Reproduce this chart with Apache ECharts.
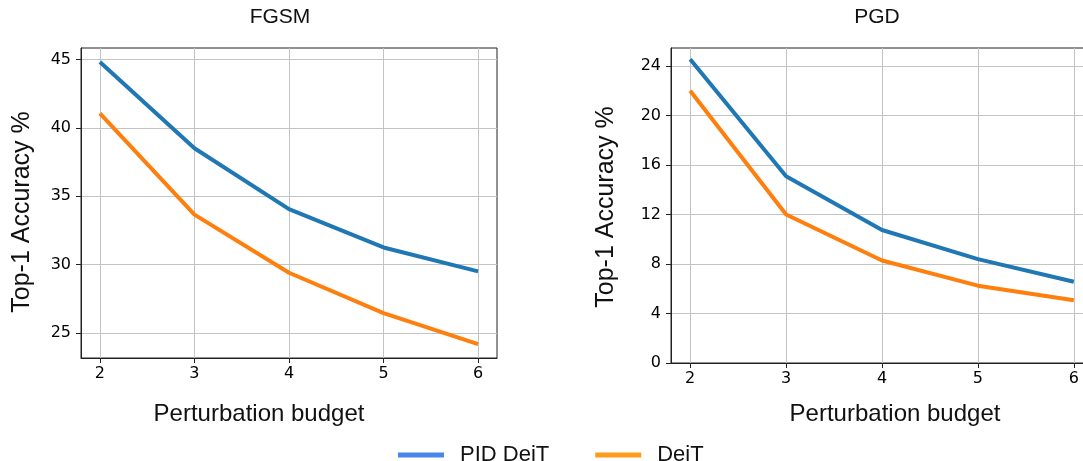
<!DOCTYPE html>
<html>
<head>
<meta charset="utf-8">
<script src="https://cdn.jsdelivr.net/npm/echarts@6/dist/echarts.min.js"></script>
<style>
  html, body { margin: 0; padding: 0; background: #fff; }
  #chart { width: 1083px; height: 461px; }
</style>
</head>
<body>
<div id="chart"></div>
<script>
// 数据
const budgets = [2, 3, 4, 5, 6];
const fgsmPid = [44.8, 38.5, 34.05, 31.25, 29.5];
const fgsmDeit = [41.05, 33.65, 29.4, 26.45, 24.18];
const pgdPid = [24.55, 15.1, 10.75, 8.4, 6.57];
const pgdDeit = [22.0, 12.0, 8.28, 6.25, 5.08];
const fgsmTicks = [25, 30, 35, 40, 45];
const pgdTicks = [0, 4, 8, 12, 16, 20, 24];

const BLUE = '#1f77b4';
const ORANGE = '#ff7f0e';
const tickFont = { fontFamily: 'DejaVu Sans', fontSize: 16, color: '#000' };
const sans = 'Liberation Sans';

const pairs = (ys) => budgets.map((x, i) => [x, ys[i]]);

function xAxisFor(gridIndex) {
  return {
    type: 'value', gridIndex: gridIndex, min: 1.8, max: 6.2,
    axisLine: { lineStyle: { color: '#222', width: 1 } },
    axisTick: { length: 5, lineStyle: { color: '#222' }, customValues: budgets },
    axisLabel: Object.assign({ margin: 8, customValues: budgets }, tickFont),
    splitLine: { show: true, lineStyle: { color: '#c4c4c4', width: 1 }, customValues: budgets }
  };
}

function yAxisFor(gridIndex, min, max, ticks) {
  return {
    type: 'value', gridIndex: gridIndex, min: min, max: max,
    axisLine: { show: true, lineStyle: { color: '#222', width: 1 } },
    axisTick: { show: true, length: 5, lineStyle: { color: '#222' }, customValues: ticks },
    axisLabel: Object.assign({ margin: 10, customValues: ticks }, tickFont),
    splitLine: { show: true, lineStyle: { color: '#c4c4c4', width: 1 }, customValues: ticks }
  };
}

function lineSeries(name, color, xi, ys) {
  return {
    name: name, type: 'line', xAxisIndex: xi, yAxisIndex: xi,
    data: pairs(ys), showSymbol: false, symbol: 'none',
    lineStyle: { color: color, width: 4 }, itemStyle: { color: color },
    animation: false
  };
}

var myChart = echarts.init(document.getElementById('chart'));
var option;

option = {
  backgroundColor: '#fff',
  animation: false,
  grid: [
    { left: 81, width: 416, top: 48, height: 310, show: true, borderColor: '#222', borderWidth: 1, outerBoundsMode: 'none', containLabel: false },
    { left: 671, width: 422, top: 48, height: 315, show: true, borderColor: '#222', borderWidth: 1, outerBoundsMode: 'none', containLabel: false }
  ],
  xAxis: [xAxisFor(0), xAxisFor(1)],
  yAxis: [
    yAxisFor(0, 23.17, 45.83, fgsmTicks),
    yAxisFor(1, 0, 25.46, pgdTicks)
  ],
  legend: {
    left: 393, top: 439, itemWidth: 46, itemHeight: 5, itemGap: 46,
    icon: 'rect',
    textStyle: { fontFamily: sans, fontSize: 22, color: '#111', padding: [0, 0, 0, 11] },
    data: [
      { name: 'PID DeiT', itemStyle: { color: '#4a86e8' } },
      { name: 'DeiT', itemStyle: { color: '#fd9c1b' } }
    ]
  },
  graphic: [
    { type: 'text', x: 280, y: 17, style: { text: 'FGSM', font: '21px "Liberation Sans"', fill: '#111', textAlign: 'center', textVerticalAlign: 'middle' } },
    { type: 'text', x: 877, y: 17, style: { text: 'PGD', font: '21px "Liberation Sans"', fill: '#111', textAlign: 'center', textVerticalAlign: 'middle' } },
    { type: 'text', x: 259, y: 414, style: { text: 'Perturbation budget', font: '24px "Liberation Sans"', fill: '#111', textAlign: 'center', textVerticalAlign: 'middle' } },
    { type: 'text', x: 895, y: 414, style: { text: 'Perturbation budget', font: '24px "Liberation Sans"', fill: '#111', textAlign: 'center', textVerticalAlign: 'middle' } },
    { type: 'text', x: 22, y: 212, rotation: Math.PI / 2, style: { text: 'Top-1 Accuracy %', font: '25px "Liberation Sans"', fill: '#111', textAlign: 'center', textVerticalAlign: 'middle' } },
    { type: 'text', x: 606, y: 207, rotation: Math.PI / 2, style: { text: 'Top-1 Accuracy %', font: '25px "Liberation Sans"', fill: '#111', textAlign: 'center', textVerticalAlign: 'middle' } }
  ],
  series: [
    lineSeries('PID DeiT', BLUE, 0, fgsmPid),
    lineSeries('DeiT', ORANGE, 0, fgsmDeit),
    lineSeries('PID DeiT', BLUE, 1, pgdPid),
    lineSeries('DeiT', ORANGE, 1, pgdDeit)
  ]
};

option && myChart.setOption(option);
</script>
</body>
</html>
